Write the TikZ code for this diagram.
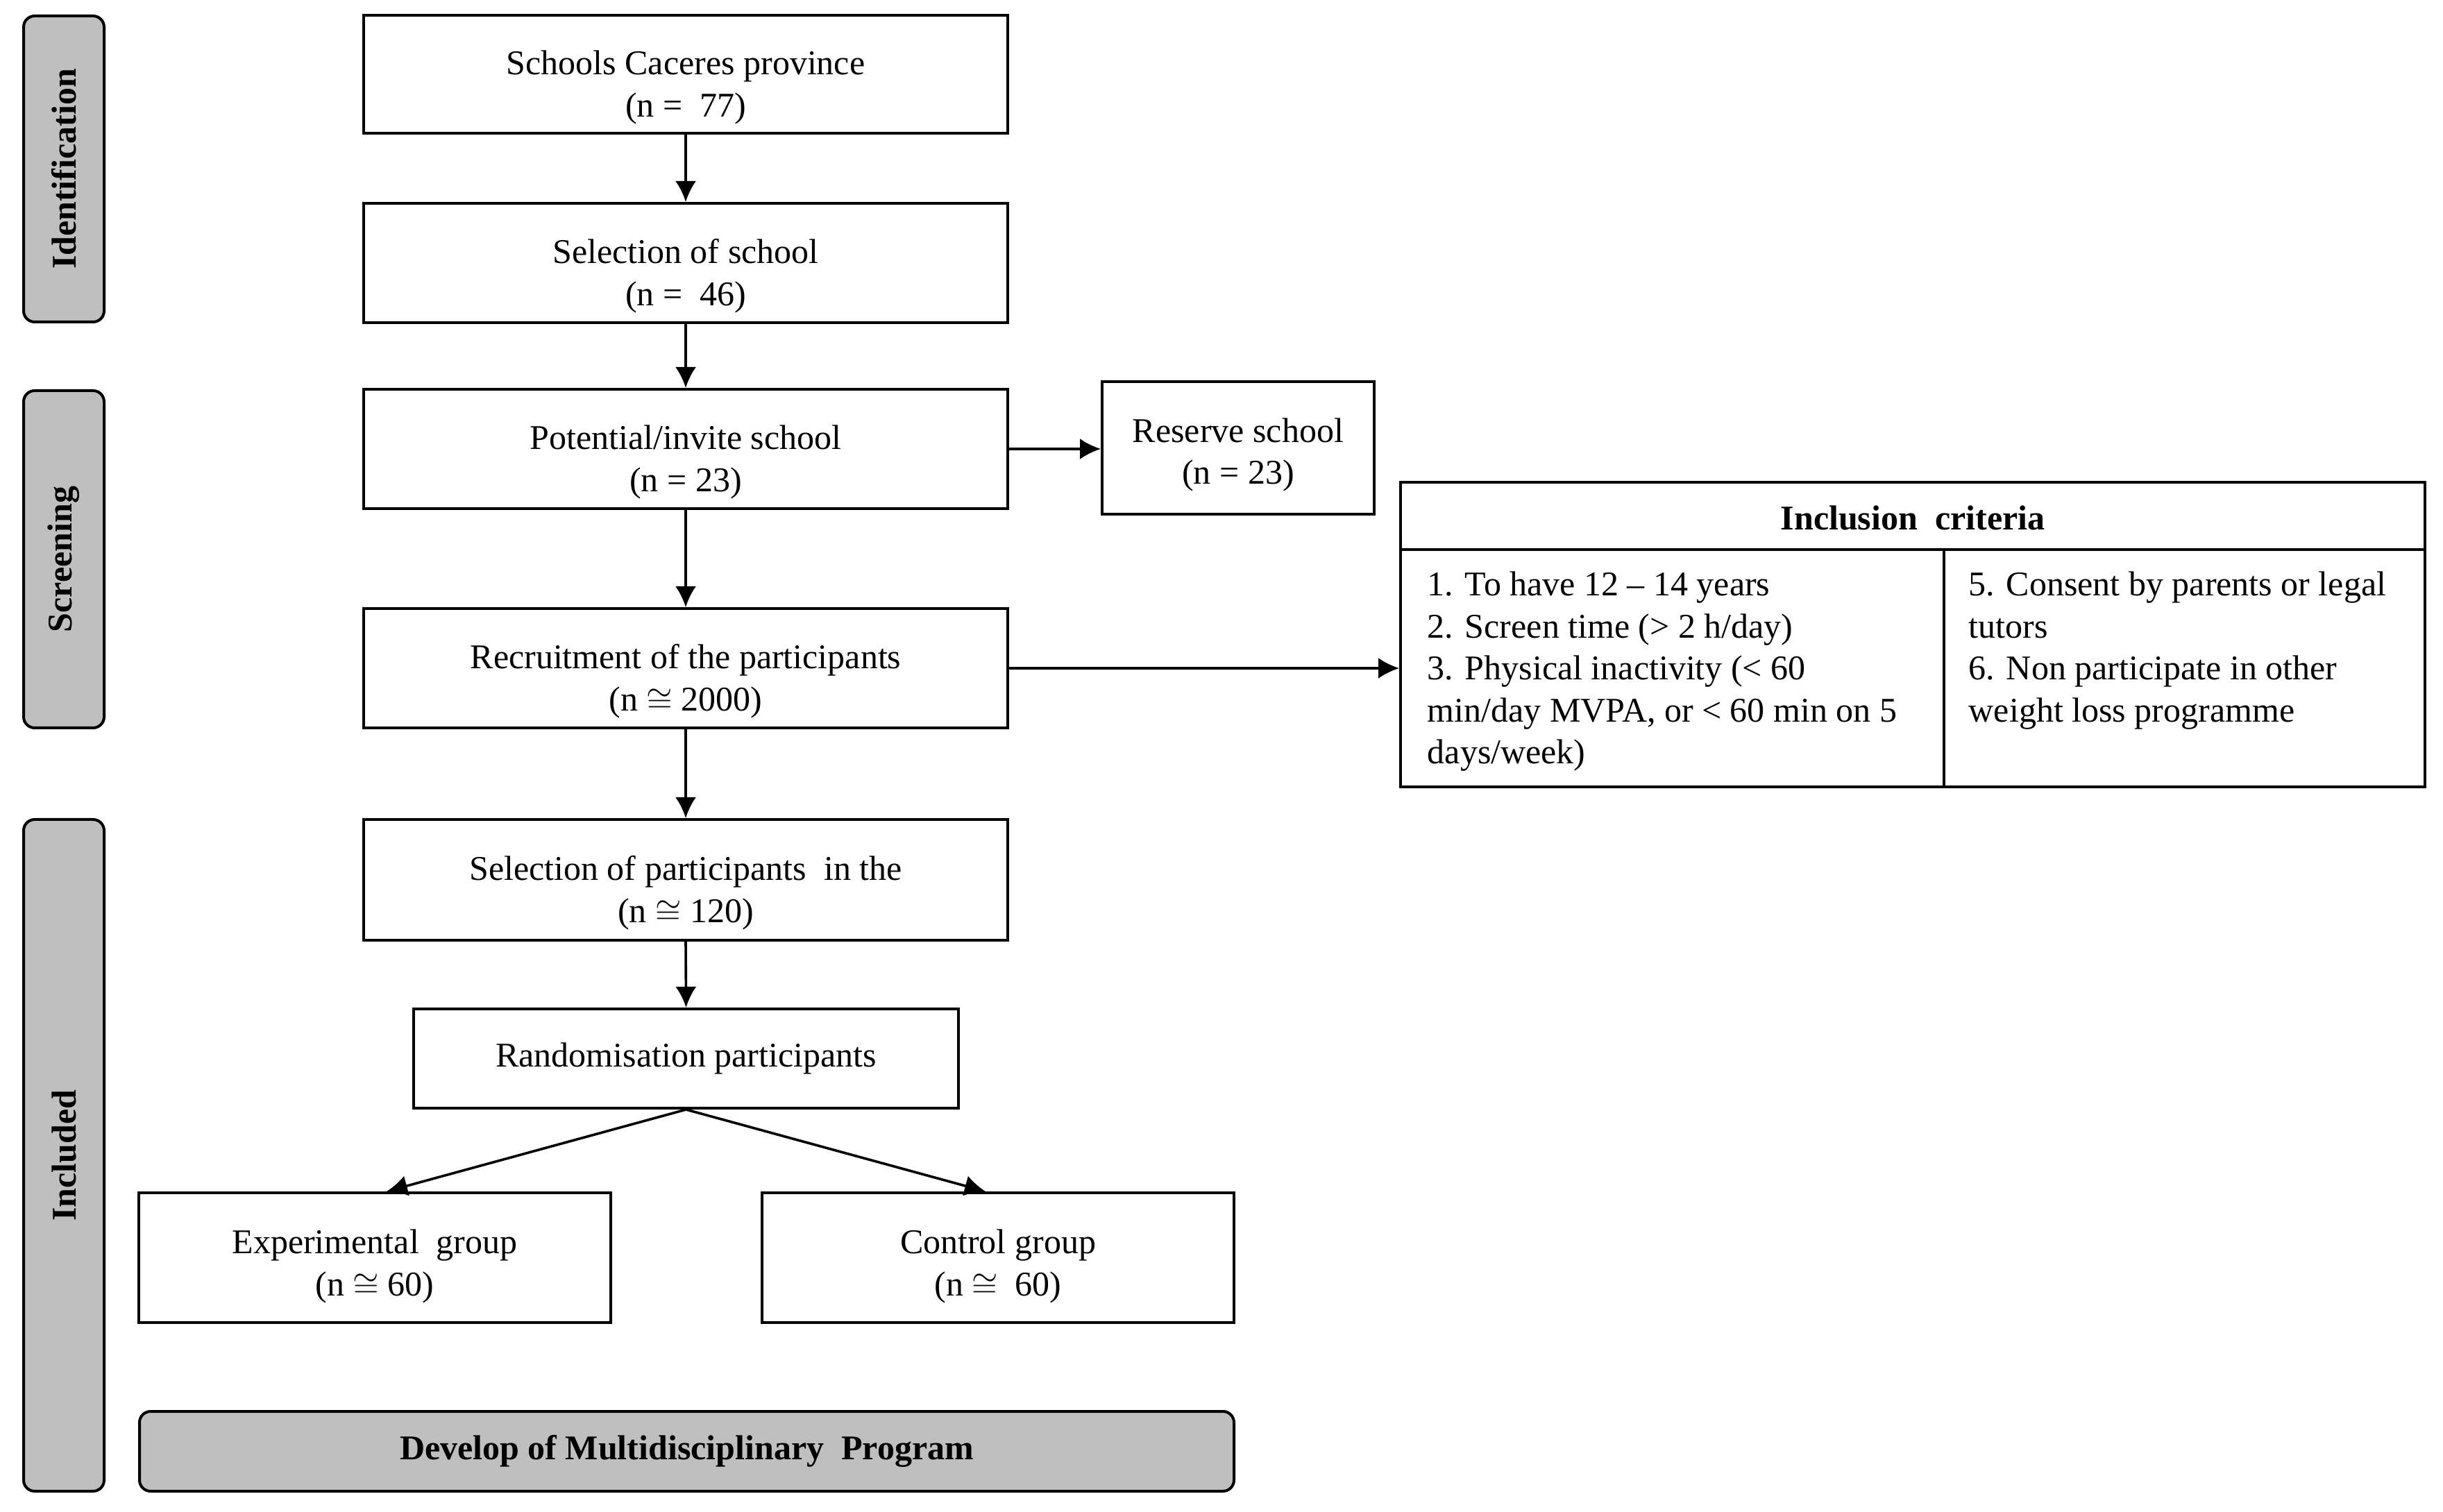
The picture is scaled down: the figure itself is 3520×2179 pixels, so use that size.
\documentclass[tikz,border=0pt]{standalone}
\usepackage{fontspec}
\setmainfont{Liberation Serif}
\usetikzlibrary{arrows.meta,calc}
\newcommand\topgap[1]{\rule{0pt}{#1}}
\begin{document}
\begin{tikzpicture}[x=0.25pt,y=-0.25pt,
  txt/.style={font=\fontsize{12.5pt}{15.15pt}\selectfont},
  box/.style={txt,draw,line width=1pt,fill=white,inner sep=0pt,align=center},
  side/.style={draw,line width=1pt,fill=black!25,rounded corners=4pt,inner sep=0pt,rotate=90,
    font=\fontsize{12.5pt}{15.15pt}\selectfont\bfseries},
  arr/.style={line width=0.9pt,-{Latex[length=7.5pt,width=7.5pt]}}]
\useasboundingbox (0,0) rectangle (3520,2179);
% side labels
\node[side,minimum width=110.25pt,minimum height=29pt] (ident) at (92,243.5) {Identification};
\node[side,minimum width=121.5pt,minimum height=29pt] (screen) at (92,806) {Screening};
\node[side,minimum width=242pt,minimum height=29pt] (incl) at (92,1665) {Included};
% main column
\node[box,minimum width=232pt,minimum height=42.5pt] (b1) at (988,107) {\topgap{18.1pt}Schools Caceres province\\(n = \ 77)};
\node[box,minimum width=232pt,minimum height=43pt] (b2) at (988,379) {\topgap{18.1pt}Selection of school\\(n = \ 46)};
\node[box,minimum width=232pt,minimum height=43pt] (b3) at (988,647) {\topgap{18.1pt}Potential/invite school\\(n = 23)};
\node[box,minimum width=232pt,minimum height=43pt] (b4) at (988,963) {\topgap{18.1pt}Recruitment of the participants\\(n $\cong$ 2000)};
\node[box,minimum width=232pt,minimum height=43.5pt] (b5) at (988,1268) {\topgap{18.1pt}Selection of participants \ in the\\(n $\cong$ 120)};
\node[box,minimum width=196.25pt,minimum height=35.75pt] (b6) at (988.5,1525.5) {Randomisation participants};
\node[box,minimum width=170pt,minimum height=46.75pt] (exp) at (540,1812.5) {\topgap{14.8pt}Experimental \ group\\(n $\cong$ 60)};
\node[box,minimum width=170pt,minimum height=46.75pt] (ctrl) at (1438,1812.5) {\topgap{14.8pt}Control group\\(n $\cong$ \ 60)};
\node[box,minimum width=98pt,minimum height=47.75pt] (res) at (1784,645.5) {\topgap{13.6pt}Reserve school\\(n = 23)};
\node[side,rotate=-90,minimum width=394.25pt,minimum height=28.75pt] (dev) at (989.5,2091.5) {Develop of Multidisciplinary \ Program};
% inclusion table
\node[draw,line width=1pt,minimum width=369pt,minimum height=109.75pt,inner sep=0pt] (inc) at (2756,914.5) {};
\node[txt,font=\fontsize{12.5pt}{15.15pt}\selectfont\bfseries,inner sep=0pt,minimum width=369pt,minimum height=24.25pt,anchor=north] (inchead) at ($(inc.north)+(0,4)$) {Inclusion \ criteria};
\draw[line width=1pt] (inc.west |- 0,792) -- (inc.east |- 0,792);
\coordinate (divtop) at (2801,792);
\draw[line width=0.8pt] (divtop) -- (divtop |- inc.south);
\node[txt,anchor=north west,align=left,inner sep=0pt] (incL) at (2056,823) {1. To have 12 -- 14 years\\2. Screen time (> 2 h/day)\\3. Physical inactivity (< 60\\min/day MVPA, or < 60 min on 5\\days/week)};
\node[txt,anchor=north west,align=left,inner sep=0pt] (incR) at (2836,823) {5. Consent by parents or legal\\tutors\\6. Non participate in other\\weight loss programme};
% arrows
\draw[arr] (b1.south) -- (b2.north);
\draw[arr] (b2.south) -- (b3.north);
\draw[arr] (b3.south) -- (b4.north);
\draw[arr] (b4.south) -- (b5.north);
\draw[arr] (b5.south) -- (b6.north);
\draw[arr] (b6.south) -- ($(exp.north)+(17,0)$);
\draw[arr] (b6.south) -- ($(ctrl.north)+(-18,0)$);
\draw[arr] (b3.east) -- (b3.east -| res.west);
\draw[arr] (b4.east) -- (b4.east -| inc.west);
\end{tikzpicture}
\end{document}
